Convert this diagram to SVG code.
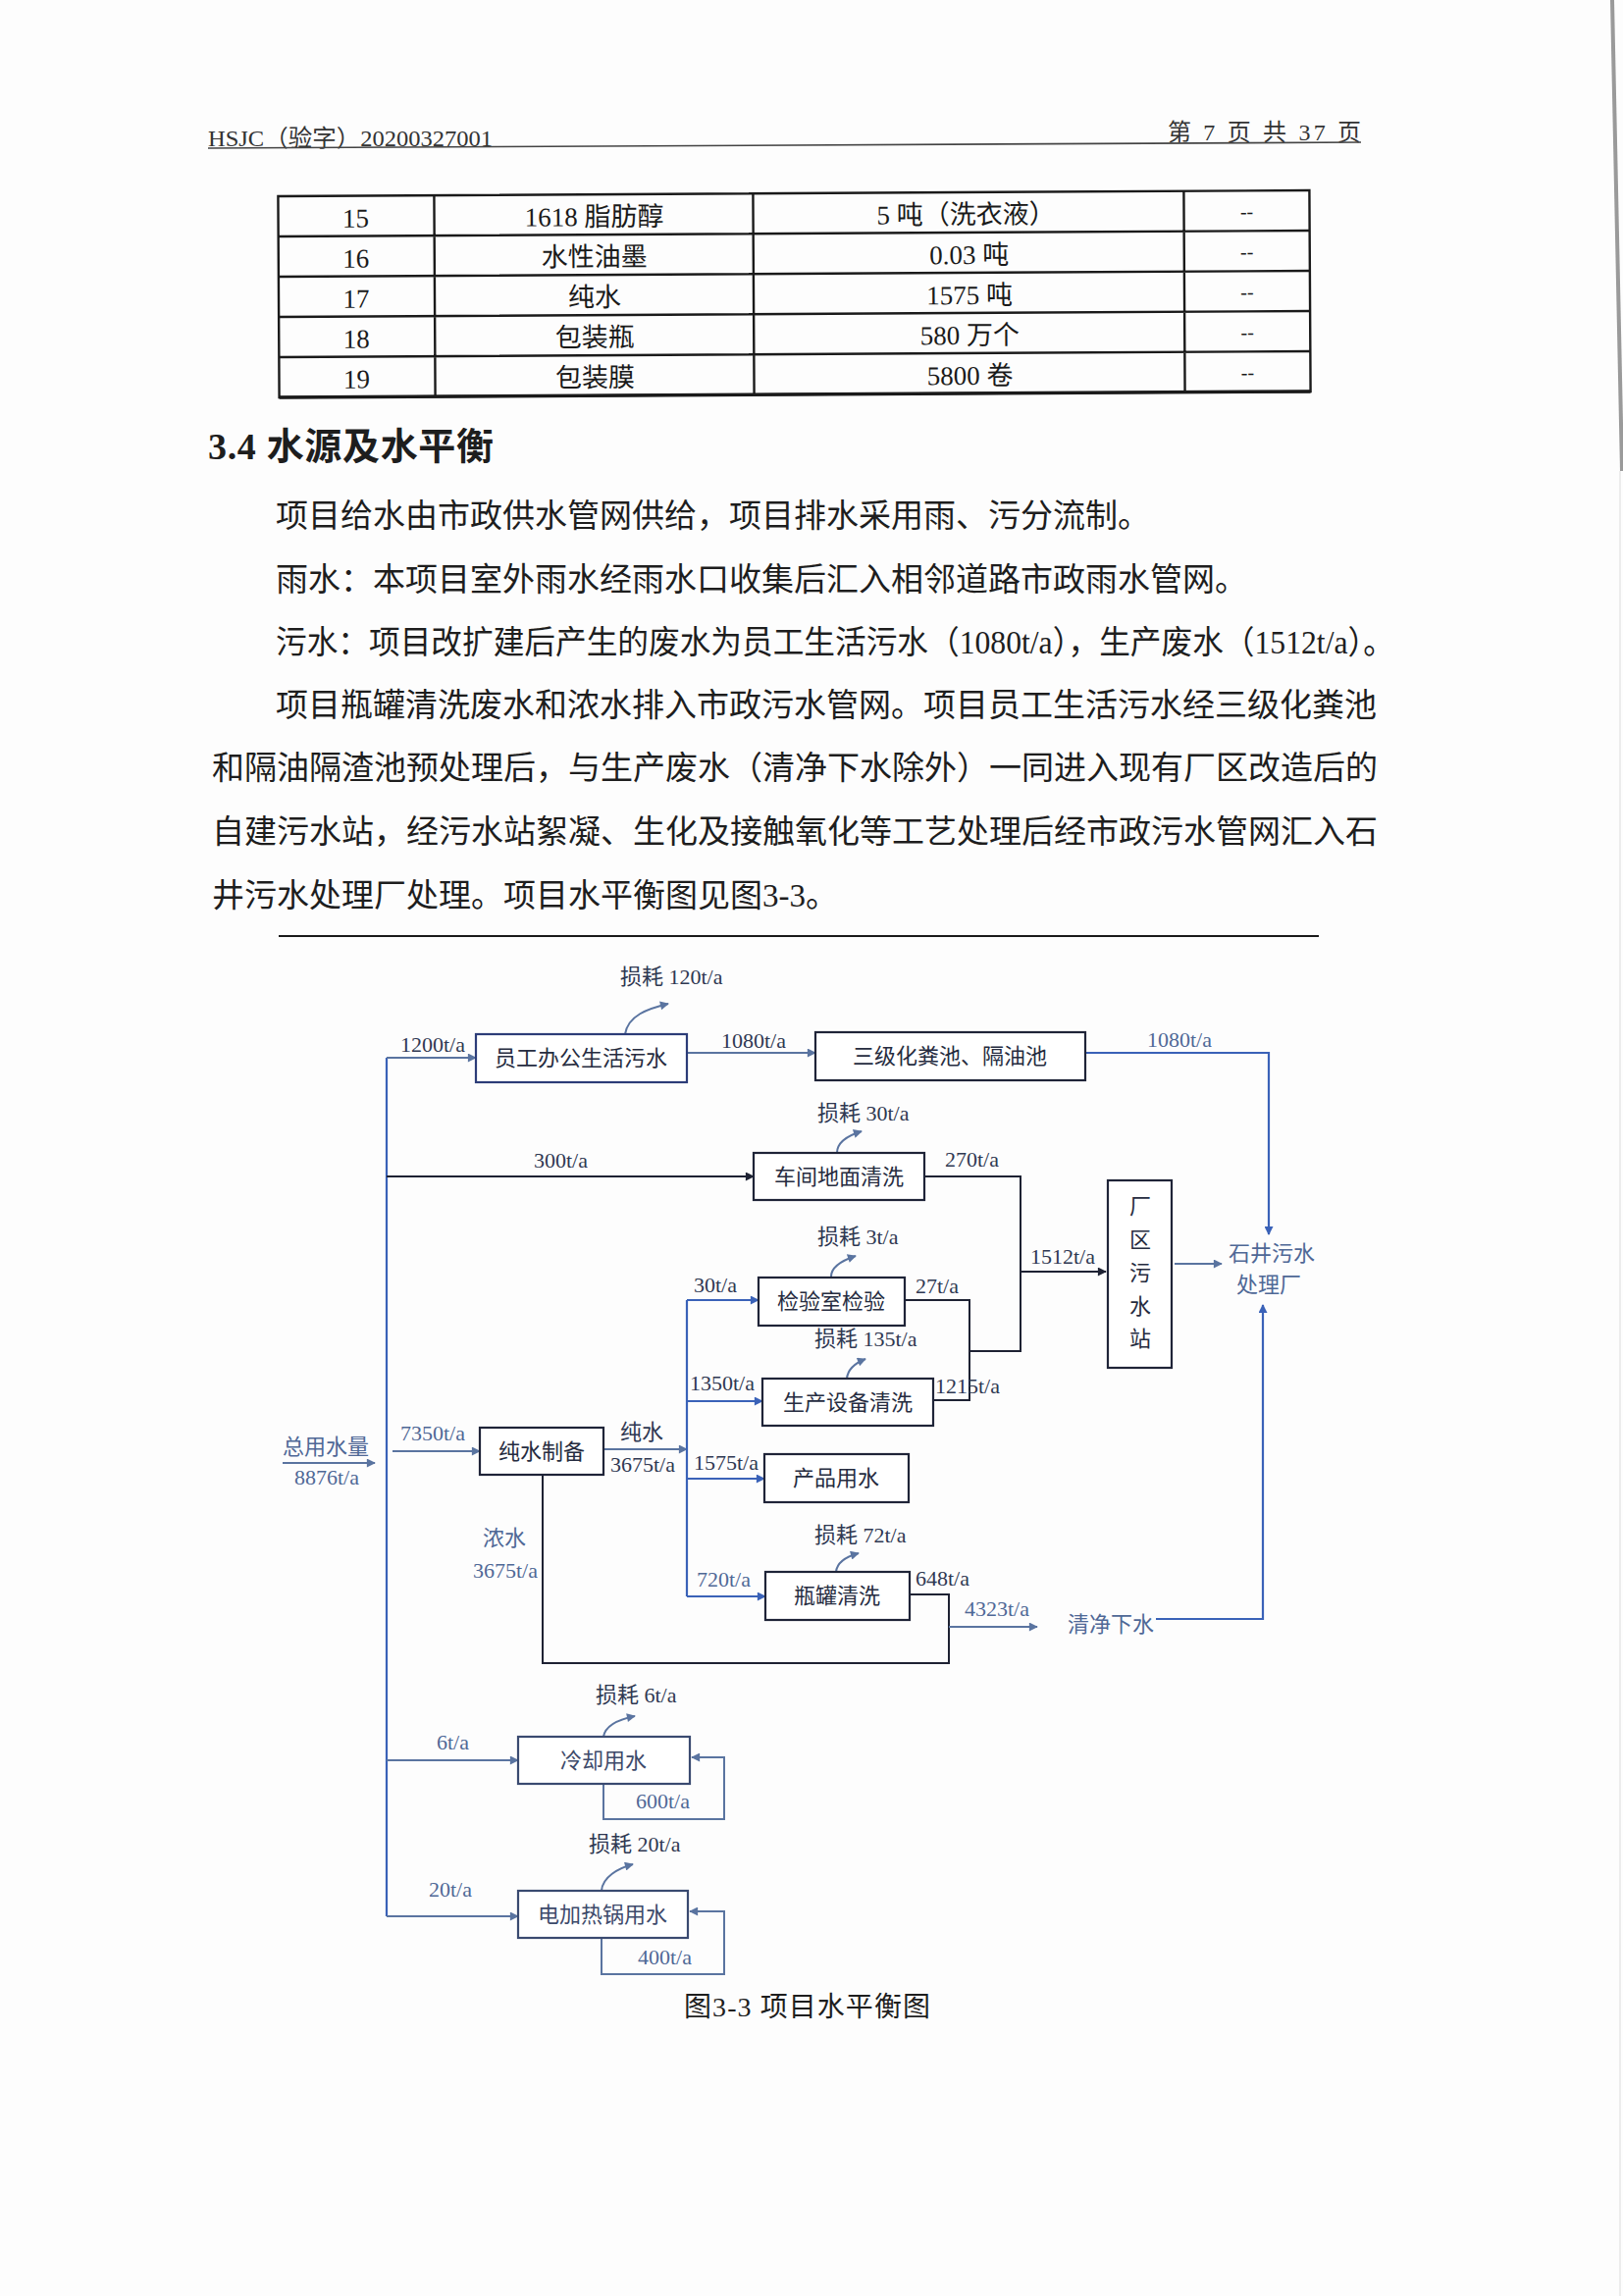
<svg xmlns="http://www.w3.org/2000/svg" width="1654" height="2340" viewBox="0 0 1654 2340">
<style>
.body{font-family:"Liberation Serif","Noto Sans CJK SC",serif;font-size:33px;fill:#1e1e1e}
.hdr{font-family:"Liberation Serif","Noto Sans CJK SC",serif;font-size:24px;fill:#333}
.tb{font-family:"Liberation Serif","Noto Sans CJK SC",serif;font-size:27px;fill:#1a1a1a;text-anchor:middle}
.dd{font-family:"Liberation Serif",serif;font-size:20px;fill:#1a1a1a;text-anchor:middle}
.bx{fill:#fff;stroke:#1f2438;stroke-width:2.2}
.bt{font-family:"Noto Sans CJK SC",sans-serif;font-size:22px;fill:#262c40;text-anchor:middle}
.lb{font-family:"Liberation Serif","Noto Sans CJK SC",serif;font-size:22px;fill:#2f3852}
.lg{font-family:"Liberation Serif","Noto Sans CJK SC",serif;font-size:22px;fill:#4f6896}
.cb{fill:none;stroke:#3a62b8;stroke-width:2.2}
.ck{fill:none;stroke:#1e2233;stroke-width:2}
.cg{fill:none;stroke:#5a74a0;stroke-width:2}
.tl{fill:none;stroke:#1a1a1a;stroke-width:2.4}
</style>
<defs>
<marker id="ab" viewBox="0 0 10 10" refX="9" refY="5" markerWidth="12" markerHeight="9" markerUnits="userSpaceOnUse" orient="auto"><path d="M0,0 L10,5 L0,10 z" fill="#3a62b8"/></marker>
<marker id="ak" viewBox="0 0 10 10" refX="9" refY="5" markerWidth="12" markerHeight="9" markerUnits="userSpaceOnUse" orient="auto"><path d="M0,0 L10,5 L0,10 z" fill="#1e2233"/></marker>
<marker id="ag" viewBox="0 0 10 10" refX="9" refY="5" markerWidth="12" markerHeight="9" markerUnits="userSpaceOnUse" orient="auto"><path d="M0,0 L10,5 L0,10 z" fill="#5a74a0"/></marker>
</defs>
<rect width="1654" height="2340" fill="#fdfdfd"/>
<path d="M1643 0 L1653 480" stroke="#9a9a9a" stroke-width="4" fill="none"/>
<path d="M1651 480 L1651 2340" stroke="#ececec" stroke-width="2" fill="none"/>

<!-- header -->
<g id="header">
<text class="hdr" x="212" y="149" textLength="290" lengthAdjust="spacingAndGlyphs">HSJC（验字）20200327001</text>
<text class="hdr" x="1190" y="143" textLength="197">第 7 页 共 37 页</text>
<path d="M212 151 L1387 145" stroke="#444" stroke-width="1.6" fill="none"/>
</g>

<!-- table -->
<g id="table" transform="rotate(-0.33 810 300)">
<rect class="tl" x="284" y="197" width="1051" height="205"/>
<path class="tl" d="M284 238 H1335 M284 279 H1335 M284 320 H1335 M284 361 H1335 M443 197 V402 M768 197 V402 M1207 197 V402"/>
<path d="M284 402 H1335" stroke="#1a1a1a" stroke-width="3.5"/>
<text class="tb" x="363" y="229">15</text><text class="tb" x="606" y="229">1618 脂肪醇</text><text class="tb" x="985" y="229">5 吨（洗衣液）</text><text class="dd" x="1271" y="225">--</text>
<text class="tb" x="363" y="270">16</text><text class="tb" x="606" y="270">水性油墨</text><text class="tb" x="988" y="270">0.03 吨</text><text class="dd" x="1271" y="266">--</text>
<text class="tb" x="363" y="311">17</text><text class="tb" x="606" y="311">纯水</text><text class="tb" x="988" y="311">1575 吨</text><text class="dd" x="1271" y="307">--</text>
<text class="tb" x="363" y="352">18</text><text class="tb" x="606" y="352">包装瓶</text><text class="tb" x="988" y="352">580 万个</text><text class="dd" x="1271" y="348">--</text>
<text class="tb" x="363" y="393">19</text><text class="tb" x="606" y="393">包装膜</text><text class="tb" x="988" y="393">5800 卷</text><text class="dd" x="1271" y="389">--</text>
</g>

<!-- section text -->
<g id="section">
<text class="body" x="212" y="468" style="font-size:38px;font-weight:bold" textLength="291">3.4 水源及水平衡</text>
<text class="body" x="281" y="537">项目给水由市政供水管网供给，项目排水采用雨、污分流制。</text>
<text class="body" x="281" y="602">雨水：本项目室外雨水经雨水口收集后汇入相邻道路市政雨水管网。</text>
<text class="body" x="281" y="666" textLength="1140" lengthAdjust="spacingAndGlyphs">污水：项目改扩建后产生的废水为员工生活污水（1080t/a），生产废水（1512t/a）。</text>
<text class="body" x="281" y="730" textLength="1122">项目瓶罐清洗废水和浓水排入市政污水管网。项目员工生活污水经三级化粪池</text>
<text class="body" x="216" y="794" textLength="1188">和隔油隔渣池预处理后，与生产废水（清净下水除外）一同进入现有厂区改造后的</text>
<text class="body" x="216" y="859" textLength="1188">自建污水站，经污水站絮凝、生化及接触氧化等工艺处理后经市政污水管网汇入石</text>
<text class="body" x="216" y="924">井污水处理厂处理。项目水平衡图见图3-3。</text>
<path d="M284 954 H1344" stroke="#1a1a1a" stroke-width="2.2"/>
</g>

<!-- connectors -->
<g id="connectors">
<path class="cb" d="M394 1078 V1953" stroke-width="2.6"/>
<path class="cg" d="M394 1078 H485" marker-end="url(#ag)"/>
<path class="cg" d="M700 1073 H831" marker-end="url(#ag)"/>
<path class="cb" d="M1106 1073 H1293 V1258" marker-end="url(#ab)" stroke-width="2.6"/>
<path class="ck" d="M394 1199 H768" marker-end="url(#ak)"/>
<path class="ck" d="M942 1199 H1040 V1377 H988"/>
<path class="ck" d="M1040 1296 H1127" marker-end="url(#ak)"/>
<path class="ck" d="M922 1325 H988 V1427 H951"/>
<path class="cg" d="M1197 1288 H1245" marker-end="url(#ag)"/>
<path class="cb" d="M1178 1650 H1287 V1330" marker-end="url(#ab)" stroke-width="1.6"/>
<path class="cg" d="M288 1491 H382" marker-end="url(#ag)"/>
<path class="cg" d="M400 1479 H489" marker-end="url(#ag)"/>
<path class="cg" d="M615 1477 H700" marker-end="url(#ag)"/>
<path class="cb" d="M700 1325 V1627"/>
<path class="cb" d="M700 1325 H773" marker-end="url(#ab)"/>
<path class="cb" d="M700 1428 H777" marker-end="url(#ab)"/>
<path class="cb" d="M700 1507 H779" marker-end="url(#ab)"/>
<path class="cb" d="M700 1627 H780" marker-end="url(#ab)"/>
<path class="ck" d="M553 1503 V1695 H967 V1625 H927"/>
<path class="cg" d="M967 1658 H1057" marker-end="url(#ag)"/>
<path class="cg" d="M394 1794 H528" marker-end="url(#ag)"/>
<path class="cg" d="M394 1953 H528" marker-end="url(#ag)"/>
<path class="cg" d="M615 1818 V1854 H738 V1791 H705" marker-end="url(#ag)"/>
<path class="cg" d="M613 1975 V2012 H738 V1948 H703" marker-end="url(#ag)"/>
<path class="cg" d="M637 1054 C640 1035 660 1028 681 1023" marker-end="url(#ag)"/>
<path class="cg" d="M853 1175 C853 1163 865 1157 878 1153" marker-end="url(#ag)"/>
<path class="cg" d="M847 1301 C847 1290 860 1284 872 1280" marker-end="url(#ag)"/>
<path class="cg" d="M863 1405 C864 1395 872 1389 882 1385" marker-end="url(#ag)"/>
<path class="cg" d="M852 1602 C853 1592 864 1586 875 1583" marker-end="url(#ag)"/>
<path class="cg" d="M615 1770 C617 1758 632 1752 647 1749" marker-end="url(#ag)"/>
<path class="cg" d="M613 1927 C614 1913 630 1904 645 1900" marker-end="url(#ag)"/>
</g>

<!-- connector labels -->
<g id="labels">
<text class="lb" x="632" y="1003">损耗 120t/a</text>
<text class="lb" x="408" y="1072">1200t/a</text>
<text class="lb" x="735" y="1068">1080t/a</text>
<text class="lg" x="1169" y="1067">1080t/a</text>
<text class="lb" x="833" y="1142">损耗 30t/a</text>
<text class="lb" x="544" y="1190">300t/a</text>
<text class="lb" x="963" y="1189">270t/a</text>
<text class="lb" x="833" y="1268">损耗 3t/a</text>
<text class="lb" x="1050" y="1288">1512t/a</text>
<text class="lb" x="707" y="1317">30t/a</text>
<text class="lb" x="933" y="1318">27t/a</text>
<text class="lb" x="830" y="1372">损耗 135t/a</text>
<text class="lb" x="703" y="1417">1350t/a</text>
<text class="lb" x="953" y="1420">1215t/a</text>
<text class="lg" x="288" y="1482">总用水量</text>
<text class="lg" x="300" y="1513">8876t/a</text>
<text class="lg" x="408" y="1468">7350t/a</text>
<text class="lb" x="632" y="1467">纯水</text>
<text class="lb" x="622" y="1500">3675t/a</text>
<text class="lb" x="707" y="1498">1575t/a</text>
<text class="lg" x="492" y="1575">浓水</text>
<text class="lg" x="482" y="1608">3675t/a</text>
<text class="lb" x="830" y="1572">损耗 72t/a</text>
<text class="lg" x="710" y="1617">720t/a</text>
<text class="lb" x="933" y="1616">648t/a</text>
<text class="lg" x="983" y="1647">4323t/a</text>
<text class="lg" x="1088" y="1663">清净下水</text>
<text class="lb" x="607" y="1735">损耗 6t/a</text>
<text class="lg" x="445" y="1783">6t/a</text>
<text class="lg" x="648" y="1843">600t/a</text>
<text class="lb" x="600" y="1887">损耗 20t/a</text>
<text class="lg" x="437" y="1933">20t/a</text>
<text class="lg" x="650" y="2002">400t/a</text>
</g>

<!-- nodes -->
<g id="n-yuangong"><rect class="bx" x="485" y="1054" width="215" height="49" style="stroke:#2c3c78"/><text class="bt" x="592" y="1086">员工办公生活污水</text></g>
<g id="n-sanji"><rect class="bx" x="831" y="1052" width="275" height="49"/><text class="bt" x="968" y="1084">三级化粪池、隔油池</text></g>
<g id="n-chejian"><rect class="bx" x="768" y="1175" width="174" height="48"/><text class="bt" x="855" y="1207">车间地面清洗</text></g>
<g id="n-jianyan"><rect class="bx" x="773" y="1302" width="149" height="49"/><text class="bt" x="847" y="1334">检验室检验</text></g>
<g id="n-shengchan"><rect class="bx" x="777" y="1405" width="174" height="48"/><text class="bt" x="864" y="1437">生产设备清洗</text></g>
<g id="n-chanpin"><rect class="bx" x="779" y="1482" width="147" height="49"/><text class="bt" x="852" y="1514">产品用水</text></g>
<g id="n-pingguan"><rect class="bx" x="780" y="1602" width="147" height="49"/><text class="bt" x="853" y="1634">瓶罐清洗</text></g>
<g id="n-chunshui"><rect class="bx" x="489" y="1455" width="126" height="48"/><text class="bt" x="552" y="1487">纯水制备</text></g>
<g id="n-changqu"><rect class="bx" x="1129" y="1203" width="65" height="191"/>
<text class="bt" x="1162" y="1237">厂</text><text class="bt" x="1162" y="1271">区</text><text class="bt" x="1162" y="1305">污</text><text class="bt" x="1162" y="1339">水</text><text class="bt" x="1162" y="1372">站</text></g>
<g id="n-shijing"><text class="bt" x="1296" y="1285" style="fill:#4f6896">石井污水</text><text class="bt" x="1293" y="1317" style="fill:#4f6896">处理厂</text></g>
<g id="n-lengque"><rect class="bx" x="528" y="1770" width="175" height="48" style="stroke:#3a4a70"/><text class="bt" x="615" y="1802" style="fill:#3d4a6a">冷却用水</text></g>
<g id="n-dianjiare"><rect class="bx" x="528" y="1927" width="173" height="48" style="stroke:#3a4a70"/><text class="bt" x="614" y="1959" style="fill:#3d4a6a">电加热锅用水</text></g>

<g id="caption"><text class="body" x="697" y="2055" style="font-size:28px" textLength="251">图3-3  项目水平衡图</text></g>
</svg>
